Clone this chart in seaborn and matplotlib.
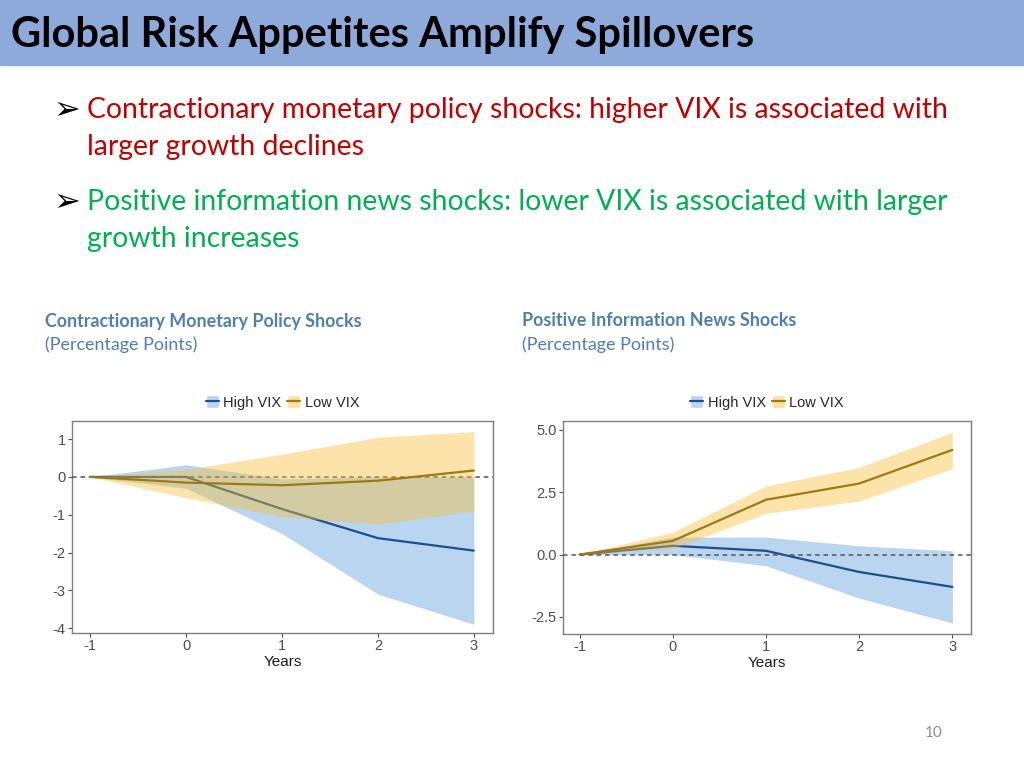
import matplotlib
matplotlib.use("Agg")
import matplotlib.pyplot as plt
from matplotlib.patches import Patch, Rectangle
from matplotlib.lines import Line2D
import seaborn as sns
import pandas as pd

years = [-1, 0, 1, 2, 3]

# Contractionary monetary policy shocks
mp_high = [0, 0.0, -0.85, -1.62, -1.95]
mp_high_lo = [0, -0.3, -1.5, -3.1, -3.9]
mp_high_hi = [0, 0.32, -0.05, 0.0, 0.0]
mp_low = [0, -0.15, -0.22, -0.1, 0.17]
mp_low_lo = [0, -0.55, -1.05, -1.25, -0.9]
mp_low_hi = [0, 0.2, 0.6, 1.05, 1.2]

# Positive information news shocks
info_high = [0, 0.35, 0.15, -0.7, -1.3]
info_high_lo = [0, 0.0, -0.45, -1.75, -2.75]
info_high_hi = [0, 0.7, 0.7, 0.35, 0.15]
info_low = [0, 0.55, 2.2, 2.85, 4.2]
info_low_lo = [0, 0.25, 1.65, 2.15, 3.45]
info_low_hi = [0, 0.9, 2.75, 3.5, 4.9]

series_names = ["High VIX", "Low VIX"]
panel_titles = ["Contractionary Monetary Policy Shocks", "Positive Information News Shocks"]

band_col = {"High VIX": "#b9d5f0", "Low VIX": "#f8be35"}
band_alpha = {"High VIX": 1.0, "Low VIX": 0.42}
line_col = {"High VIX": "#1f4e8c", "Low VIX": "#9c7a14"}

sns.set_theme(style="white")
plt.rcParams["font.family"] = ["Lato", "DejaVu Sans"]
axis_font = ["Liberation Sans", "DejaVu Sans"]

fig = plt.figure(figsize=(10.24, 7.68), dpi=100)

# header bar
fig.patches.append(Rectangle((0, 1 - 65 / 768), 1, 65 / 768, transform=fig.transFigure,
                             color="#8eaadb", zorder=0))
fig.text(0.011, 1 - 35 / 768, "Global Risk Appetites Amplify Spillovers", fontsize=30,
         fontweight="bold", color="black", va="center")

# bullets
bullets = [
    (110, ["Contractionary monetary policy shocks: higher VIX is associated with",
           "larger growth declines"], "#c00000"),
    (202, ["Positive information news shocks: lower VIX is associated with larger",
           "growth increases"], "#00b050"),
]
for y, lines, col in bullets:
    fig.text(53 / 1024, 1 - (y + 1) / 768, "➢", fontsize=23, color="black", va="center",
             family=["DejaVu Sans"])
    for k, ln in enumerate(lines):
        fig.text(87 / 1024, 1 - (y + 37 * k) / 768, ln, fontsize=20.4, color=col, va="center")

# panel titles
for x, t in zip([45, 522], panel_titles):
    fig.text(x / 1024, 1 - 321 / 768, t, fontsize=12.9, fontweight="bold", color="#4f7fb0",
             va="center")
    fig.text(x / 1024, 1 - 345 / 768, "(Percentage Points)", fontsize=12.9, color="#4f7fb0",
             va="center")

fig.text(934 / 1024, 1 - 733 / 768, "10", fontsize=11, color="#8c8c8c", ha="center", va="center")

panels = [
    ([72, 421, 493, 633], (mp_high, mp_high_lo, mp_high_hi), (mp_low, mp_low_lo, mp_low_hi),
     (-1.19, 3.2), (-4.13, 1.48), [1, 0, -1, -2, -3, -4], "{:.0f}"),
    ([563, 421, 971, 634], (info_high, info_high_lo, info_high_hi), (info_low, info_low_lo, info_low_hi),
     (-1.18, 3.2), (-3.19, 5.36), [5.0, 2.5, 0.0, -2.5], "{:.1f}"),
]

for box, high, low, xlim, ylim, yticks, fmt in panels:
    x0, y0, x1, y1 = box
    ax = fig.add_axes([x0 / 1024, 1 - y1 / 768, (x1 - x0) / 1024, (y1 - y0) / 768])
    ax.axhline(0, color="#555555", ls=(0, (3, 2.5)), lw=1.1, zorder=3)
    for name, (mean, lo, hi), z in [("High VIX", high, 1), ("Low VIX", low, 5)]:
        ax.fill_between(years, lo, hi, color=band_col[name], alpha=band_alpha[name], lw=0, zorder=z)
        df = pd.DataFrame({"Years": years, "value": mean})
        sns.lineplot(data=df, x="Years", y="value", color=line_col[name], lw=1.6,
                     ax=ax, zorder=z + 1)
    ax.set_xlim(*xlim)
    ax.set_ylim(*ylim)
    ax.set_xticks(years)
    ax.set_xticklabels([str(v) for v in years], family=axis_font)
    ax.set_yticks(yticks)
    ax.set_yticklabels([fmt.format(v) for v in yticks], family=axis_font)
    ax.tick_params(axis="both", labelsize=10.5, colors="#4d4d4d", length=3, width=0.8,
                   left=True, bottom=True, pad=1.5)
    ax.set_xlabel("Years", fontsize=11, color="#1a1a1a", labelpad=1, family=axis_font)
    ax.set_ylabel("")
    for s in ax.spines.values():
        s.set_color("#7f7f7f")
        s.set_linewidth(1.0)
    handles = [(Patch(facecolor="#b9d5f0" if n == "High VIX" else "#fbe0a0"),
                Line2D([], [], color=line_col[n], lw=1.6)) for n in series_names]
    ax.legend(handles, series_names, loc="lower center", bbox_to_anchor=(0.5, 1.025), ncol=2,
              frameon=False, prop={"family": axis_font, "size": 10.5}, handlelength=0.9,
              handleheight=1.0, handletextpad=0.3, columnspacing=0.4, borderaxespad=0)

fig.savefig("out.png", dpi=100)
